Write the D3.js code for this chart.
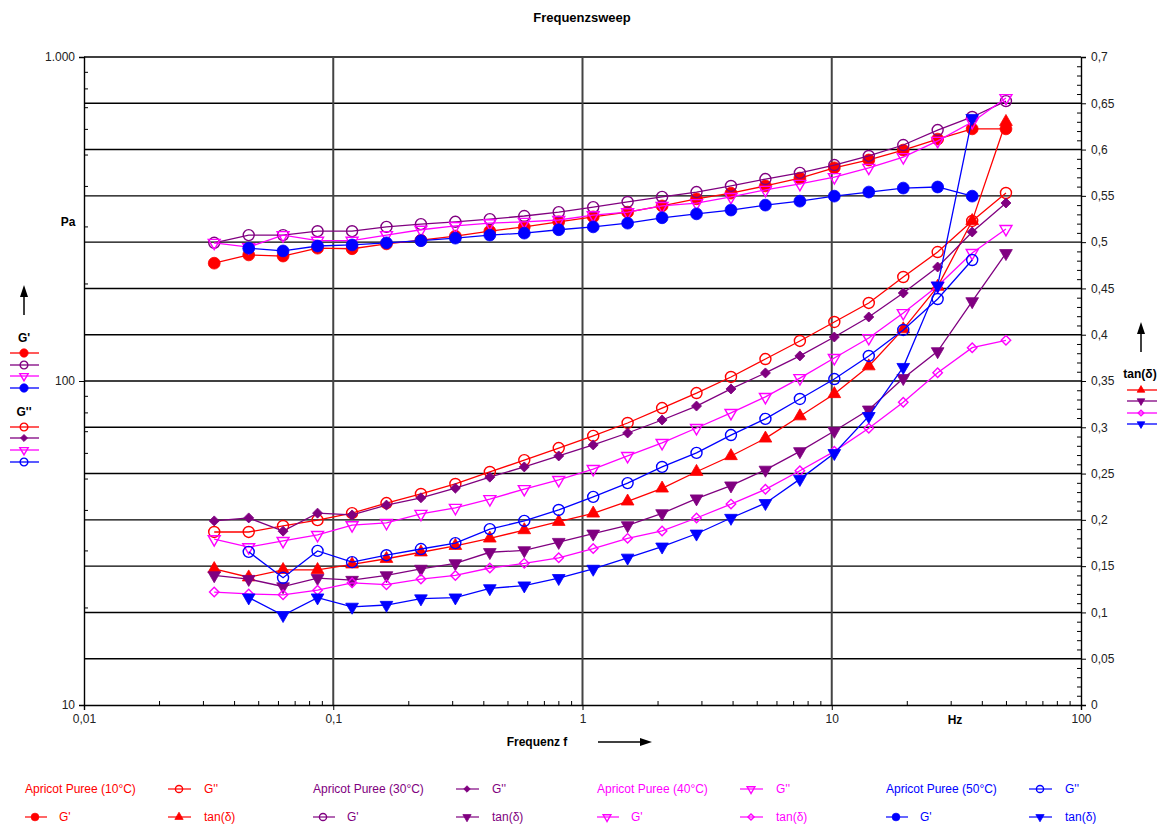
<!DOCTYPE html>
<html><head><meta charset="utf-8">
<script src="https://cdn.jsdelivr.net/npm/d3@7"></script>
<style>
body{margin:0;background:#fff}
svg{display:block}
text{font-family:"Liberation Sans",Arial,sans-serif}
</style>
</head><body>
<svg id="c" width="1163" height="828"></svg>
<script>
// ---------------- data ----------------
const freq = [0.0333, 0.0458, 0.0629, 0.0865, 0.119, 0.1635, 0.2248, 0.309, 0.4248, 0.584, 0.8028, 1.104, 1.517, 2.086, 2.867, 3.942, 5.419, 7.45, 10.24, 14.08, 19.36, 26.6, 36.6, 50.0];

// Apricot Puree (10°C)
const gp10  = [231, 245, 243, 257, 256, 265, 272, 280, 290, 299, 310, 321, 332, 347, 365, 380, 400, 423, 455, 481, 516, 558, 600, 600];
const gpp10 = [34.2, 34.2, 35.7, 37.2, 39.1, 42.0, 44.8, 48.1, 52.4, 57.0, 62.1, 67.7, 74.2, 82.5, 91.8, 102.9, 116.9, 132.9, 152.1, 174.1, 209.4, 250.1, 311.8, 380.4];
const tan10 = [0.147, 0.138, 0.146, 0.146, 0.152, 0.158, 0.165, 0.172, 0.180, 0.189, 0.198, 0.207, 0.220, 0.234, 0.252, 0.269, 0.288, 0.312, 0.336, 0.366, 0.406, 0.452, 0.523, 0.630];

// Apricot Puree (30°C)
const gp30  = [267, 282, 282, 290, 290, 299, 305, 310, 316, 323, 332, 344, 357, 370, 383, 400, 420, 439, 464, 495, 535, 595, 653, 731];
const gpp30 = [37.0, 37.8, 34.4, 39.1, 38.6, 41.4, 43.6, 46.7, 50.5, 54.3, 58.7, 63.5, 69.1, 75.8, 83.7, 94.5, 105.9, 119.5, 136.7, 157.6, 186.9, 224.8, 288.3, 354.3];
const tan30 = [0.140, 0.136, 0.128, 0.137, 0.135, 0.140, 0.147, 0.153, 0.165, 0.167, 0.176, 0.185, 0.194, 0.207, 0.223, 0.237, 0.254, 0.274, 0.296, 0.319, 0.353, 0.382, 0.436, 0.488];

// Apricot Puree (40°C)
const gp40  = [267, 259, 282, 271, 271, 282, 293, 301, 307, 310, 314, 325, 332, 347, 354, 370, 389, 406, 426, 455, 491, 551, 630, 747];
const gpp40 = [32.5, 30.7, 32.1, 33.5, 35.9, 36.5, 38.9, 40.6, 43.2, 46.4, 49.5, 53.5, 58.7, 64.4, 71.6, 79.7, 89.3, 102.1, 117.8, 135.7, 162.1, 196.5, 248.4, 294.5];
const tan40 = [0.122, 0.120, 0.119, 0.124, 0.132, 0.130, 0.136, 0.140, 0.148, 0.153, 0.159, 0.169, 0.180, 0.188, 0.202, 0.217, 0.233, 0.253, 0.274, 0.299, 0.327, 0.359, 0.386, 0.394];

// Apricot Puree (50°C)
const gp50  = [null, 257, 252, 261, 263, 267, 271, 276, 282, 286, 293, 299, 307, 319, 328, 337, 349, 359, 372, 383, 394, 397, 372, null];
const gpp50 = [null, 29.7, 24.7, 29.9, 27.6, 29.0, 30.3, 31.6, 34.9, 37.0, 40.0, 43.9, 48.4, 54.3, 60.0, 68.1, 76.4, 88.0, 101.4, 119.5, 143.7, 179.1, 236.3, null];
const tan50 = [null, 0.116, 0.097, 0.116, 0.106, 0.108, 0.115, 0.116, 0.126, 0.129, 0.137, 0.147, 0.159, 0.171, 0.185, 0.202, 0.218, 0.244, 0.272, 0.312, 0.365, 0.453, 0.634, null];

// tick labels
const xTicks = [0.01, 0.1, 1, 10, 100];
const xTickLabels = ["0,01", "0,1", "1", "10", "100"];
const yLeftTicks = [10, 100, 1000];
const yLeftTickLabels = ["10", "100", "1.000"];
const yRightTicks = [0, 0.05, 0.1, 0.15, 0.2, 0.25, 0.3, 0.35, 0.4, 0.45, 0.5, 0.55, 0.6, 0.65, 0.7];
const yRightTickLabels = ["0", "0,05", "0,1", "0,15", "0,2", "0,25", "0,3", "0,35", "0,4", "0,45", "0,5", "0,55", "0,6", "0,65", "0,7"];
const sampleNames = ["Apricot Puree (10°C)", "Apricot Puree (30°C)", "Apricot Puree (40°C)", "Apricot Puree (50°C)"];

// ---------------- styles ----------------
const RED = "#ff0000", PUR = "#800080", MAG = "#ff00ff", BLU = "#0000ff";
const series = [
  {v: gp10,  ax: "L", c: RED, m: "circleF"},
  {v: gpp10, ax: "L", c: RED, m: "circleO"},
  {v: tan10, ax: "R", c: RED, m: "triUpF"},
  {v: gp30,  ax: "L", c: PUR, m: "circleO"},
  {v: gpp30, ax: "L", c: PUR, m: "diamondF"},
  {v: tan30, ax: "R", c: PUR, m: "triDownF"},
  {v: gp40,  ax: "L", c: MAG, m: "triDownO"},
  {v: gpp40, ax: "L", c: MAG, m: "triDownO"},
  {v: tan40, ax: "R", c: MAG, m: "diamondO"},
  {v: gp50,  ax: "L", c: BLU, m: "circleF"},
  {v: gpp50, ax: "L", c: BLU, m: "circleO"},
  {v: tan50, ax: "R", c: BLU, m: "triDownF"}
];

const svg = d3.select("#c");
const X0 = 84, X1 = 1081, Y0 = 705, Y1 = 57;
const x = d3.scaleLog().domain([0.01, 100]).range([X0, X1]);
const yL = d3.scaleLog().domain([10, 1000]).range([Y0, Y1]);
const yR = d3.scaleLinear().domain([0, 0.7]).range([Y0, Y1]);

// title
svg.append("text").attr("x", 582).attr("y", 22).attr("text-anchor", "middle")
  .attr("font-size", 13).attr("font-weight", "bold").text("Frequenzsweep");

// grid
const grid = svg.append("g");
yRightTicks.filter(t => t > 0).forEach(t => {
  grid.append("line").attr("x1", X0).attr("x2", X1).attr("y1", yR(t)).attr("y2", yR(t))
    .attr("stroke", "#000").attr("stroke-width", 1.4);
});
[0.1, 1, 10].forEach(t => {
  grid.append("line").attr("x1", x(t)).attr("x2", x(t)).attr("y1", Y1).attr("y2", Y0)
    .attr("stroke", "#444").attr("stroke-width", 2);
});

function styleAxis(g) {
  g.selectAll("path.domain").attr("stroke", "#000").attr("stroke-width", 1.4);
  g.selectAll(".tick line").attr("stroke", "#000").attr("stroke-width", 1);
  g.selectAll(".tick text").attr("font-size", 12).attr("fill", "#222")
    .style("font-family", "'Liberation Sans', Arial, sans-serif");
}

// minor tick values
const logMinor = [];
[10, 100].forEach(b => { for (let k = 2; k <= 9; k++) logMinor.push(b * k); });
const xMinor = [];
[0.01, 0.1, 1, 10].forEach(b => { for (let k = 2; k <= 9; k++) xMinor.push(+(b * k).toPrecision(3)); });
const rMinor = [];
for (let i = 1; i < 70; i++) if (i % 5 !== 0) rMinor.push(i / 100);

// left axis
const gl = svg.append("g").attr("transform", `translate(${X0},0)`)
  .call(d3.axisLeft(yL).tickValues(yLeftTicks).tickSize(5).tickPadding(4)
    .tickFormat((d, i) => yLeftTickLabels[i]));
styleAxis(gl);
svg.append("g").attr("transform", `translate(${X0},0)`)
  .call(d3.axisRight(yL).tickValues(logMinor).tickSize(4).tickFormat(""))
  .call(g => { g.select(".domain").remove(); g.selectAll("line").attr("stroke", "#000"); });

// right axis
const gr = svg.append("g").attr("transform", `translate(${X1},0)`)
  .call(d3.axisRight(yR).tickValues(yRightTicks).tickSize(5).tickPadding(5)
    .tickFormat((d, i) => yRightTickLabels[i]));
styleAxis(gr);
svg.append("g").attr("transform", `translate(${X1},0)`)
  .call(d3.axisLeft(yR).tickValues(rMinor).tickSize(4).tickFormat(""))
  .call(g => { g.select(".domain").remove(); g.selectAll("line").attr("stroke", "#000"); });

// bottom axis
const gb = svg.append("g").attr("transform", `translate(0,${Y0})`)
  .call(d3.axisBottom(x).tickValues(xTicks).tickSize(5).tickPadding(4)
    .tickFormat((d, i) => xTickLabels[i]));
styleAxis(gb);
svg.append("g").attr("transform", `translate(0,${Y0})`)
  .call(d3.axisTop(x).tickValues(xMinor).tickSize(4).tickFormat(""))
  .call(g => { g.select(".domain").remove(); g.selectAll("line").attr("stroke", "#000"); });

// axis titles
svg.append("text").attr("x", 68).attr("y", 226).attr("text-anchor", "middle")
  .attr("font-size", 12).attr("font-weight", "bold").text("Pa");
svg.append("text").attr("x", 955).attr("y", 724).attr("text-anchor", "middle")
  .attr("font-size", 12).attr("font-weight", "bold").text("Hz");
svg.append("text").attr("x", 537).attr("y", 746).attr("text-anchor", "middle")
  .attr("font-size", 12).attr("font-weight", "bold").text("Frequenz f");

function arrow(x1, y1, x2, y2) {
  const ang = Math.atan2(y2 - y1, x2 - x1);
  const L = 12, W = 4;
  const bx = x2 - L * Math.cos(ang), by = y2 - L * Math.sin(ang);
  svg.append("line").attr("x1", x1).attr("y1", y1).attr("x2", bx).attr("y2", by)
    .attr("stroke", "#000").attr("stroke-width", 1.5);
  const px = -Math.sin(ang) * W, py = Math.cos(ang) * W;
  svg.append("path").attr("d", `M${x2},${y2}L${bx + px},${by + py}L${bx - px},${by - py}Z`).attr("fill", "#000");
}
arrow(598, 742, 652, 742);
arrow(24, 315, 24, 285);
arrow(1141, 352, 1141, 322);

// markers
function marker(g, type, cx, cy, color, s) {
  s = s || 1;
  let sym, size, rot = 0, filled;
  switch (type) {
    case "circleF": sym = d3.symbolCircle; size = 110; filled = true; break;
    case "circleO": sym = d3.symbolCircle; size = 95; filled = false; break;
    case "triUpF": sym = d3.symbolTriangle; size = 70; filled = true; break;
    case "triDownF": sym = d3.symbolTriangle; size = 70; filled = true; rot = 180; break;
    case "triDownO": sym = d3.symbolTriangle; size = 62; filled = false; rot = 180; break;
    case "diamondF": sym = d3.symbolSquare; size = 50; filled = true; rot = 45; break;
    case "diamondO": sym = d3.symbolSquare; size = 45; filled = false; rot = 45; break;
  }
  g.append("path").attr("d", d3.symbol(sym, size * s * s)())
    .attr("transform", `translate(${cx},${cy}) rotate(${rot})`)
    .attr("fill", filled ? color : "none")
    .attr("stroke", color).attr("stroke-width", filled ? 0.8 : 1.4);
}

// series
const plot = svg.append("g");
series.forEach(sr => {
  const ys = sr.ax === "L" ? yL : yR;
  const pts = freq.map((f, i) => [f, sr.v[i]]);
  const line = d3.line().defined(d => d[1] != null).x(d => x(d[0])).y(d => ys(d[1]));
  plot.append("path").attr("d", line(pts)).attr("fill", "none")
    .attr("stroke", sr.c).attr("stroke-width", 1.3);
  pts.filter(d => d[1] != null).forEach(d => marker(plot, sr.m, x(d[0]), ys(d[1]), sr.c));
});

// left legend (G', G'')
const lg = svg.append("g");
lg.append("text").attr("x", 24).attr("y", 342).attr("text-anchor", "middle")
  .attr("font-size", 12).attr("font-weight", "bold").text("G'");
lg.append("text").attr("x", 24).attr("y", 416).attr("text-anchor", "middle")
  .attr("font-size", 12).attr("font-weight", "bold").text("G''");
const gpRows = [353, 365, 376, 388], gppRows = [427, 438, 450, 462];
[0, 3, 6, 9].forEach((si, k) => {
  const sr = series[si];
  lg.append("line").attr("x1", 10).attr("x2", 39).attr("y1", gpRows[k]).attr("y2", gpRows[k]).attr("stroke", sr.c).attr("stroke-width", 1.3);
  marker(lg, sr.m, 24, gpRows[k], sr.c, 0.7);
});
[1, 4, 7, 10].forEach((si, k) => {
  const sr = series[si];
  lg.append("line").attr("x1", 10).attr("x2", 39).attr("y1", gppRows[k]).attr("y2", gppRows[k]).attr("stroke", sr.c).attr("stroke-width", 1.3);
  marker(lg, sr.m, 24, gppRows[k], sr.c, 0.7);
});

// right legend (tan δ)
const rg = svg.append("g");
rg.append("text").attr("x", 1140).attr("y", 378).attr("text-anchor", "middle")
  .attr("font-size", 12).attr("font-weight", "bold").text("tan(δ)");
const tanRows = [390, 401, 413, 424];
[2, 5, 8, 11].forEach((si, k) => {
  const sr = series[si];
  rg.append("line").attr("x1", 1127).attr("x2", 1157).attr("y1", tanRows[k]).attr("y2", tanRows[k]).attr("stroke", sr.c).attr("stroke-width", 1.3);
  marker(rg, sr.m, 1141, tanRows[k], sr.c, 0.6);
});

// bottom legend
const bl = svg.append("g");
const colX = [25, 313, 597, 886];
const colors = [RED, PUR, MAG, BLU];
colX.forEach((cx, k) => {
  const c = colors[k];
  bl.append("text").attr("x", cx).attr("y", 793).attr("font-size", 12).attr("fill", c).text(sampleNames[k]);
  const s1 = series[k * 3 + 1], s0 = series[k * 3], s2 = series[k * 3 + 2];
  const mx = cx + 143;
  // G''
  bl.append("line").attr("x1", mx).attr("x2", mx + 23).attr("y1", 789).attr("y2", 789).attr("stroke", c).attr("stroke-width", 1.2);
  marker(bl, s1.m, mx + 11, 789, c, 0.65);
  bl.append("text").attr("x", mx + 36).attr("y", 793).attr("font-size", 12).attr("fill", c).text("G''");
  // G'
  bl.append("line").attr("x1", cx).attr("x2", cx + 22).attr("y1", 817).attr("y2", 817).attr("stroke", c).attr("stroke-width", 1.2);
  marker(bl, s0.m, cx + 10, 817, c, 0.65);
  bl.append("text").attr("x", cx + 34).attr("y", 821).attr("font-size", 12).attr("fill", c).text("G'");
  // tan(δ)
  bl.append("line").attr("x1", mx).attr("x2", mx + 23).attr("y1", 817).attr("y2", 817).attr("stroke", c).attr("stroke-width", 1.2);
  marker(bl, s2.m, mx + 11, 817, c, 0.65);
  bl.append("text").attr("x", mx + 36).attr("y", 821).attr("font-size", 12).attr("fill", c).text("tan(δ)");
});
</script>
</body></html>
